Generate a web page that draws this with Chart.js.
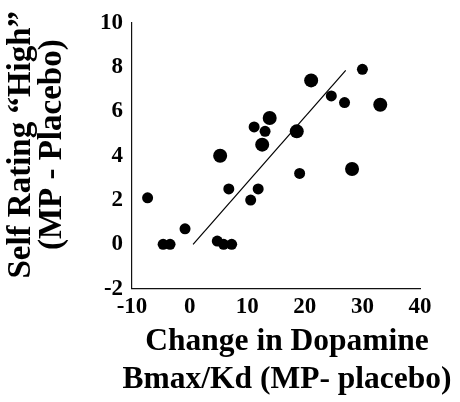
<!DOCTYPE html>
<html>
<head>
<meta charset="utf-8">
<script src="https://cdn.jsdelivr.net/npm/chart.js@4"></script>
<style>
    html, body { margin: 0; padding: 0; background: #fff; }
    #wrap { width: 460px; height: 402px; }
</style>
</head>
<body>
<div id="wrap"><canvas id="chart" width="460" height="402"></canvas></div>
<script>
// --- DATA ---
// subjects plotted with the regular dot
const smallX = [-7.3, -4.6, -3.4, -0.8, 4.8, 5.9, 7.3, 6.8, 10.6, 11.9, 11.2, 13.1, 19.1, 24.6, 26.9, 30.0];
const smallY = [2.1, 0, 0, 0.7, 0.15, 0, 0, 2.5, 2.0, 2.5, 5.3, 5.1, 3.2, 6.7, 6.4, 7.9];
// subjects plotted with the larger dot
const bigX = [5.3, 12.6, 13.9, 18.6, 21.1, 28.2, 33.1];
const bigY = [4.0, 4.5, 5.7, 5.1, 7.4, 3.4, 6.3];
// regression line end points
const fitX = [0.6, 27.1];
const fitY = [0, 7.85];

const xTicks = [-10, 0, 10, 20, 30, 40];
const yTicks = [-2, 0, 2, 4, 6, 8, 10];

const xTitle = ['Change in Dopamine', 'Bmax/Kd (MP- placebo)'];
const yTitle = ['Self Rating \u201CHigh\u201D', '(MP - Placebo)'];

const toPoints = (xs, ys) => xs.map((x, i) => ({ x: x, y: ys[i] }));

// --- STYLE ---
const SERIF = '"Liberation Serif", "Times New Roman", serif';
const INK = '#000';

// Chart.js squeezes a title to the chart-area size and centres it there;
// the original lets the lines run wider and sits them a little off centre.
const titleShift = {
    id: 'titleShift',
    afterLayout(chart) {
        const shifts = { x: [11, 0], y: [0, -11] };
        Object.keys(shifts).forEach(id => {
            const s = chart.scales[id];
            if (!s || s._shifted) return;
            const orig = s.drawTitle.bind(s);
            s.drawTitle = function () {
                const ctx = chart.ctx;
                const box = { left: s.left, right: s.right, top: s.top, bottom: s.bottom };
                if (s.isHorizontal()) { s.left -= 200; s.right += 200; }
                else { s.top -= 200; s.bottom += 200; }
                ctx.save();
                ctx.translate(shifts[id][0], shifts[id][1]);
                orig();
                ctx.restore();
                Object.assign(s, box);
            };
            s._shifted = true;
        });
    }
};

const noGrid = { display: false, drawTicks: false, tickLength: 0 };
const tickFont = { family: SERIF, size: 23, weight: 'bold' };

new Chart(document.getElementById('chart'), {
    type: 'scatter',
    data: {
        datasets: [
            {
                label: 'fit',
                type: 'line',
                data: toPoints(fitX, fitY),
                borderColor: INK,
                borderWidth: 1.2,
                pointRadius: 0,
                fill: false
            },
            {
                label: 'subjects',
                data: toPoints(smallX, smallY),
                backgroundColor: INK,
                borderWidth: 0,
                pointRadius: 5.5,
                pointHoverRadius: 5.5
            },
            {
                label: 'subjects (large)',
                data: toPoints(bigX, bigY),
                backgroundColor: INK,
                borderWidth: 0,
                pointRadius: 7,
                pointHoverRadius: 7
            }
        ]
    },
    options: {
        responsive: false,
        animation: false,
        layout: { padding: { left: 0, top: 20, right: 40, bottom: 0 } },
        plugins: {
            legend: { display: false },
            tooltip: { enabled: false }
        },
        scales: {
            x: {
                type: 'linear',
                min: -10,
                max: 40,
                afterBuildTicks: (axis) => { axis.ticks = xTicks.map(v => ({ value: v })); },
                grid: noGrid,
                border: { display: true, color: '#111', width: 1.2 },
                ticks: { color: INK, padding: 5, font: tickFont },
                title: {
                    display: true,
                    text: xTitle,
                    color: INK,
                    font: { family: SERIF, size: 31.5, weight: 'bold', lineHeight: 1.21 },
                    padding: { top: -3.5, bottom: 3 }
                }
            },
            y: {
                type: 'linear',
                min: -2,
                max: 10,
                afterBuildTicks: (axis) => { axis.ticks = yTicks.map(v => ({ value: v })); },
                grid: noGrid,
                border: { display: true, color: '#111', width: 1.2 },
                ticks: { color: INK, padding: 9, font: tickFont },
                title: {
                    display: true,
                    text: yTitle,
                    color: INK,
                    font: { family: SERIF, size: 33, weight: 'bold', lineHeight: 0.94 },
                    padding: { top: 6, bottom: 23 }
                }
            }
        }
    },
    plugins: [titleShift]
});
</script>
</body>
</html>
